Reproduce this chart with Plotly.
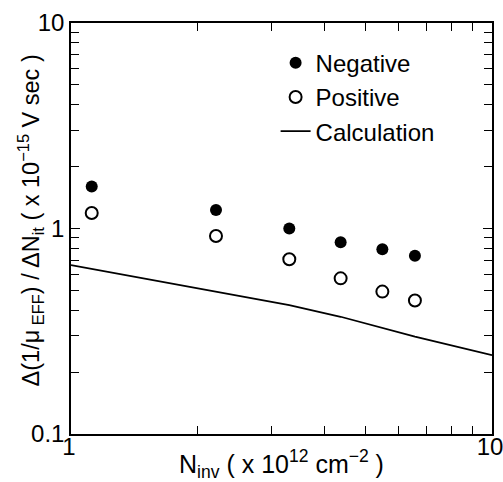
import plotly.graph_objects as go

# Data
n_inv = [1.12, 2.21, 3.30, 4.37, 5.49, 6.56]
negative = [1.60, 1.23, 1.00, 0.857, 0.792, 0.737]
positive = [1.19, 0.919, 0.708, 0.572, 0.493, 0.446]

calc_x = [1.0, 2.21, 3.30, 4.37, 5.49, 6.56, 10.0]
calc_y = [0.664, 0.493, 0.424, 0.372, 0.327, 0.298, 0.242]

FONT = "Liberation Sans, Arial, Helvetica, sans-serif"

fig = go.Figure()
fig.add_trace(go.Scatter(
    x=n_inv, y=negative, mode="markers", name="Negative",
    marker=dict(symbol="circle", size=12, color="black"),
))
fig.add_trace(go.Scatter(
    x=n_inv, y=positive, mode="markers", name="Positive",
    marker=dict(symbol="circle-open", size=12, color="black", line=dict(width=2)),
))
fig.add_trace(go.Scatter(
    x=calc_x, y=calc_y, mode="lines", name="Calculation",
    line=dict(color="black", width=1.8),
))

minor_x = [2, 3, 4, 5, 6, 7, 8, 9]
minor_y = [0.2, 0.3, 0.4, 0.5, 0.6, 0.7, 0.8, 0.9, 2, 3, 4, 5, 6, 7, 8, 9]

axis_common = dict(
    type="log", showgrid=False, zeroline=False,
    showline=True, linecolor="black", linewidth=1.5, mirror="allticks",
    ticks="inside", ticklen=9, tickwidth=1.3, tickcolor="black",
    tickfont=dict(family=FONT, size=24, color="black"),
    ticklabeloverflow="allow",
)

fig.update_xaxes(
    **axis_common,
    range=[0, 1], tickvals=[1, 10], ticktext=["1", "10"],
    ticklabelstandoff=-10, ticklabelshift=-2,
    minor=dict(ticks="inside", ticklen=8, tickwidth=1.3, tickcolor="black",
               tickvals=minor_x, showgrid=False),
    title=dict(text="N<sub>inv</sub> ( x 10<sup>12</sup> cm<sup>−2</sup> )",
               font=dict(family=FONT, size=25, color="black"), standoff=14),
)
fig.update_yaxes(
    **axis_common,
    range=[-1, 1], tickvals=[0.1, 1, 10], ticktext=["0.1", "1", "10"],
    minor=dict(ticks="inside", ticklen=8, tickwidth=1.3, tickcolor="black",
               tickvals=minor_y, showgrid=False),
)

# y-axis title placed as a rotated annotation so it can sit over the tick label column
fig.add_annotation(
    text="Δ(1/μ<sub> EFF</sub>) / ΔN<sub>it</sub> ( x 10<sup>−15</sup> V sec )",
    xref="paper", yref="paper", x=-0.097, y=0.52,
    xanchor="center", yanchor="middle", textangle=-90, showarrow=False,
    font=dict(family=FONT, size=23.5, color="black"),
)

fig.update_layout(
    width=503, height=482,
    margin=dict(l=71, r=11, t=23, b=48, autoexpand=False),
    paper_bgcolor="white", plot_bgcolor="white",
    showlegend=True,
    legend=dict(
        x=0.486, y=0.957, xanchor="left", yanchor="top",
        bgcolor="rgba(0,0,0,0)", borderwidth=0,
        font=dict(family=FONT, size=24, color="black"),
        tracegroupgap=0, itemwidth=30,
    ),
)

fig.write_html("out.html", config={"displayModeBar": False},
               post_script="document.body.style.margin='0';")
